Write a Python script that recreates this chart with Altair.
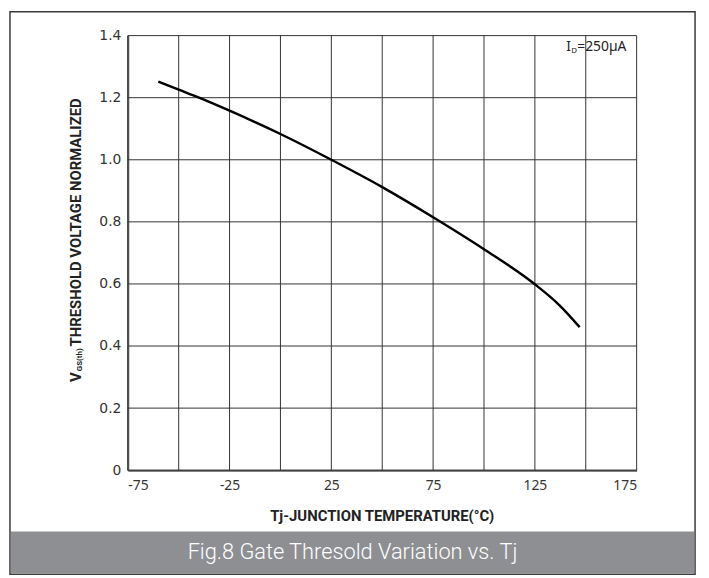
import altair as alt
import pandas as pd

# Curve data
temps = [-60, -50, -40, -25, 0, 25, 50, 75, 100, 125, 137, 147]
vgs = [1.252, 1.226, 1.2, 1.158, 1.083, 1.0, 0.912, 0.815, 0.712, 0.599, 0.532, 0.461]

grid_x = [-75, -50, -25, 0, 25, 50, 75, 100, 125, 150, 175]
grid_y = [0, 0.2, 0.4, 0.6, 0.8, 1.0, 1.2, 1.4]
x_ticks = [-75, -25, 25, 75, 125, 175]
y_ticks = [0, 0.2, 0.4, 0.6, 0.8, 1.0, 1.2, 1.4]

x_title = "Tj-JUNCTION TEMPERATURE(°C)"
y_title_main = "V"
y_title_sub = "GS(th)"
y_title_rest = "THRESHOLD VOLTAGE NORMALIZED"
legend_i = "I"
legend_sub = "D"
legend_rest = "=250µA"
caption = "Fig.8 Gate Thresold Variation vs. Tj"

curve = pd.DataFrame({"t": temps, "v": vgs})
gx = pd.DataFrame({"gx": grid_x})
gy = pd.DataFrame({"gy": grid_y})

xs = alt.Scale(domain=[-75, 175], nice=False, zero=False)
ys = alt.Scale(domain=[0, 1.4], nice=False)

xaxis = alt.Axis(
    values=x_ticks, grid=False, ticks=False, title=None,
    domainColor="#5c5c5c", domainWidth=2, labelPadding=8,
    labelFont="Noto Sans", labelFontSize=14, labelColor="#333333",
    labelExpr="datum.value < 0 ? '-' + abs(datum.value) : '' + datum.value")
yaxis = alt.Axis(
    values=y_ticks, grid=False, ticks=False, title=None,
    domainColor="#5c5c5c", domainWidth=2, labelPadding=7,
    labelFont="DejaVu Sans", labelFontSize=14, labelColor="#333333",
    labelExpr="datum.value == 0 ? '0' : format(datum.value, '.1f')")

GRID = "#333333"
one = pd.DataFrame({"k": [0]})

frame = alt.Chart(one).mark_rect(fillOpacity=0, stroke="#3a3a3a", strokeWidth=1.5).encode(
    x=alt.value(-119), x2=alt.value(573), y=alt.value(-24), y2=alt.value(544)
)
bar = alt.Chart(one).mark_rect(fill="#8e8f93").encode(
    x=alt.value(-118), x2=alt.value(572), y=alt.value(501), y2=alt.value(543)
)

vgrid = alt.Chart(gx).mark_rule(color=GRID, strokeWidth=1).encode(
    x=alt.X("gx:Q", scale=xs, axis=xaxis)
)
hgrid = alt.Chart(gy).mark_rule(color=GRID, strokeWidth=1).encode(
    y=alt.Y("gy:Q", scale=ys, axis=yaxis)
)

line = alt.Chart(curve).mark_line(color="#000000", strokeWidth=2.5, interpolate="monotone").encode(
    x=alt.X("t:Q", scale=xs, axis=xaxis),
    y=alt.Y("v:Q", scale=ys, axis=yaxis),
)

def txt(s, x, y, size, weight="normal", angle=0, align="left", baseline="middle", color="#222222", font="Roboto"):
    return alt.Chart(pd.DataFrame({"s": [s]})).mark_text(
        font=font, fontSize=size, fontWeight=weight, angle=angle, align=align,
        baseline=baseline, color=color
    ).encode(text="s:N", x=alt.value(x), y=alt.value(y))

xt = txt(x_title, 257, 485, 15, "bold", align="center")
cap = txt(caption, 227, 522, 22, 300, align="center", color="#ffffff")

# rotated y title: reads bottom-to-top
y0 = 350
yt1 = txt(y_title_main, -52, y0, 15, "bold", angle=270)
yt2 = txt(y_title_sub, -48, y0 - 11, 8, "bold", angle=270)
yt3 = txt(y_title_rest, -52, y0 - 36, 15, "bold", angle=270)

lg1 = txt(legend_i, 443, 12, 14, font="Noto Sans")
lg2 = txt(legend_sub, 448, 16, 8, font="Noto Sans")
lg3 = txt(legend_rest, 454, 12, 14, font="Noto Sans")

chart = alt.layer(
    frame, bar, vgrid, hgrid, line, xt, cap, yt1, yt2, yt3, lg1, lg2, lg3
).properties(
    width=514, height=439,
    autosize=alt.AutoSizeParams(type="none"),
    padding={"left": 121, "top": 25, "right": 65, "bottom": 105},
).configure_view(stroke=None)

chart.save("out.html", embed_options={"renderer": "svg", "actions": False})
